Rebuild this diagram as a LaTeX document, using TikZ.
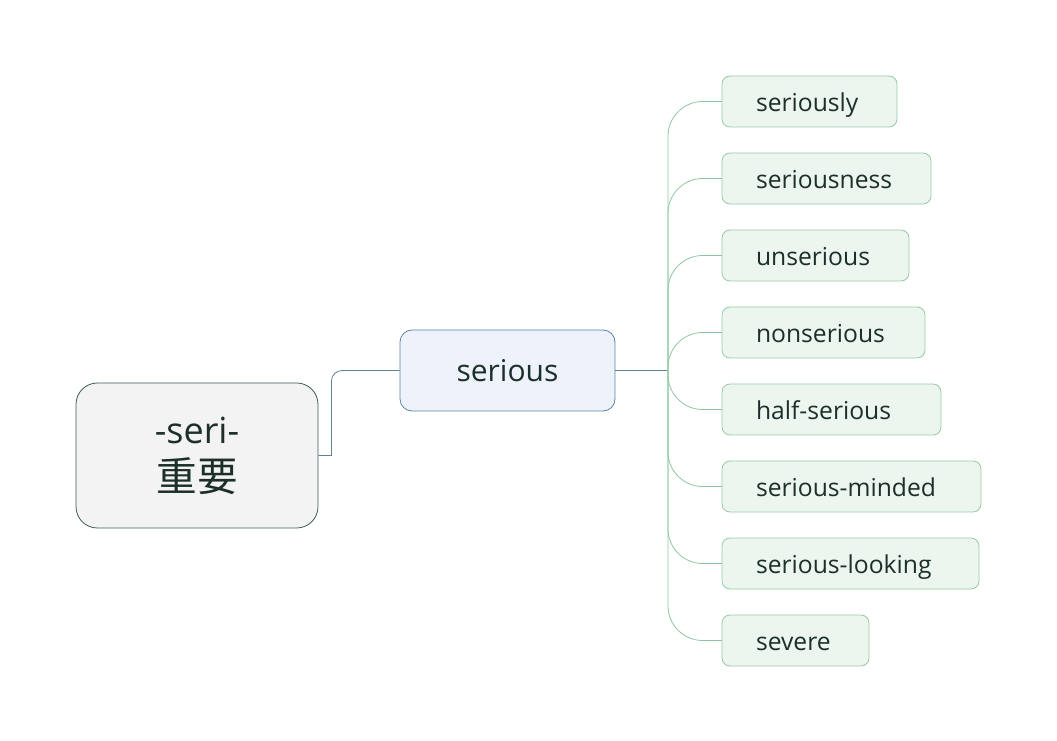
\documentclass[tikz,border=0pt]{standalone}
\usepackage{fontspec}
\setmainfont{Open Sans}
\newfontfamily\cjkfont{Noto Sans CJK SC}
\usetikzlibrary{positioning}
\definecolor{rootfill}{HTML}{F3F3F3}
\definecolor{rootline}{HTML}{3E5A5A}
\definecolor{mainfill}{HTML}{EEF3FB}
\definecolor{mainline}{HTML}{5D82A8}
\definecolor{leaffill}{HTML}{EDF5EF}
\definecolor{leafline}{HTML}{95CBA6}
\definecolor{textcol}{HTML}{1C2F2B}
\definecolor{linkblue}{HTML}{5F8297}
\definecolor{linkgreen}{HTML}{8FC6A1}

\tikzset{
  rootbox/.style={draw=rootline, fill=rootfill, rounded corners=16pt, line width=0.6pt,
    minimum width=181.5pt, minimum height=108.75pt, align=center, text=textcol,
    font=\fontsize{27}{36}\selectfont},
  mainbox/.style={draw=mainline, fill=mainfill, rounded corners=9pt, line width=0.6pt,
    minimum width=161.25pt, minimum height=60.75pt, text=textcol, font=\fontsize{22.5}{27}\selectfont},
  leaf/.style={draw=leafline, fill=leaffill, rounded corners=6pt, line width=0.6pt, outer sep=0pt,
    minimum height=38.25pt, inner xsep=25.5pt, inner ysep=2pt, text width=#1, align=left, text=textcol,
    text height=17.5pt, text depth=2.5pt, font=\fontsize{18.5}{22}\selectfont},
  bluelink/.style={draw=linkblue, line width=0.6pt},
  branch/.style={draw=linkgreen, line width=0.6pt, rounded corners=26pt}
}

\begin{document}
\begin{tikzpicture}[x=0.75pt, y=-0.75pt, node distance=19.5pt]
    \useasboundingbox (0,0) rectangle (1057,741);

    \node (root) [rootbox] at (197,455.5) {-seri-\\{\cjkfont\fontsize{30.5}{36}\selectfont 重要}};
    \node (serious) [mainbox] at (507.5,370.5) {serious};

    \node (seriously) [leaf=80.25pt, anchor=west] at (722,101.5) {seriously};
    \node (seriousness) [leaf=105.75pt, below=of seriously.south west, anchor=north west] {seriousness};
    \node (unserious) [leaf=89.25pt, below=of seriousness.south west, anchor=north west] {unserious};
    \node (nonserious) [leaf=101.25pt, below=of unserious.south west, anchor=north west] {nonserious};
    \node (halfserious) [leaf=113.25pt, below=of nonserious.south west, anchor=north west] {half-serious};
    \node (minded) [leaf=143.25pt, below=of halfserious.south west, anchor=north west] {serious-minded};
    \node (looking) [leaf=141.75pt, below=of minded.south west, anchor=north west] {serious-looking};
    \node (severe) [leaf=59.25pt, below=of looking.south west, anchor=north west] {severe};

    \coordinate (fork) at (668,370.5);

    \draw [bluelink] (root.east) -- ++(13,0) [rounded corners=8pt] |- (serious.west);
    \draw [bluelink] (serious.east) -- (fork);

    \draw [branch] (fork) |- (seriously.west);
    \draw [branch] (fork) |- (seriousness.west);
    \draw [branch] (fork) |- (unserious.west);
    \draw [branch] (fork) |- (nonserious.west);
    \draw [branch] (fork) |- (halfserious.west);
    \draw [branch] (fork) |- (minded.west);
    \draw [branch] (fork) |- (looking.west);
    \draw [branch] (fork) |- (severe.west);
\end{tikzpicture}
\end{document}
